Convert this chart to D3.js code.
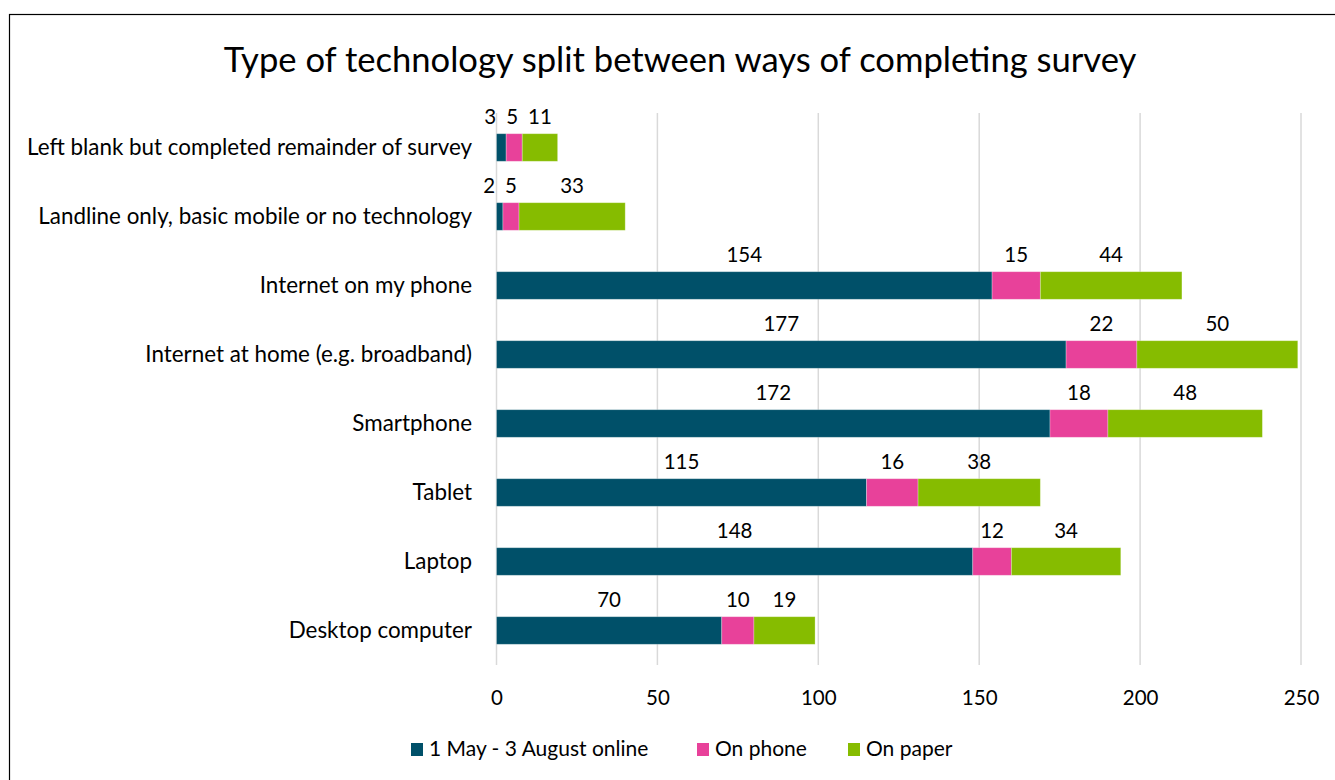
<!DOCTYPE html>
<html><head><meta charset="utf-8">
<script src="https://cdn.jsdelivr.net/npm/d3@7"></script>
<style>body{margin:0;background:#fff}svg{display:block}text{font-family:Lato,"Open Sans",sans-serif;fill:#000}</style>
</head><body><svg id="c" width="1335" height="780"></svg>
<script>
const categories = ["Left blank but completed remainder of survey","Landline only, basic mobile or no technology","Internet on my phone","Internet at home (e.g. broadband)","Smartphone","Tablet","Laptop","Desktop computer"];
const seriesNames = ["1 May - 3 August online","On phone","On paper"];
const online = [3,2,154,177,172,115,148,70];
const phone = [5,5,15,22,18,16,12,10];
const paper = [11,33,44,50,48,38,34,19];
const tickValues = [0,50,100,150,200,250];
const colors = ["#005069","#E8419A","#86BC00"];

const svg = d3.select("#c");
svg.append("rect").attr("x",9.5).attr("y",14.5).attr("width",1340).attr("height",800).attr("fill","#fff").attr("stroke","#000").attr("stroke-width",1.2);
svg.append("text").attr("x",680).attr("y",72).attr("text-anchor","middle").style("font-size","34.6px").text("Type of technology split between ways of completing survey");

const x = d3.scaleLinear().domain([0,250]).range([496.5,1301]);
const y = d3.scaleBand().domain(categories).range([113,665]).paddingInner(0.6).paddingOuter(0.3);

// gridlines
svg.append("g").selectAll("line").data(tickValues).join("line")
  .attr("x1",d=>x(d)).attr("x2",d=>x(d)).attr("y1",113).attr("y2",665)
  .attr("stroke","#d9d9d9").attr("stroke-width",1.5);

// axis labels
const ax = svg.append("g").attr("transform","translate(0,665)")
  .call(d3.axisBottom(x).tickValues(tickValues).tickSize(0).tickPadding(25));
ax.select(".domain").remove();
ax.selectAll("text").style("font-size","20.5px").style("font-family","Lato,'Open Sans',sans-serif").attr("fill","#000");

const rows = categories.map((c,i)=>({cat:c,v:[online[i],phone[i],paper[i]]}));
const stack = d3.stack().keys([0,1,2]).value((d,k)=>d.v[k]);
const layers = stack(rows);

const g = svg.append("g");
const labelSel = [];
layers.forEach((layer,k)=>{
  g.append("g").selectAll("rect").data(layer).join("rect")
    .attr("x",d=>x(d[0])).attr("width",d=>x(d[1])-x(d[0]))
    .attr("y",d=>y(d.data.cat)).attr("height",y.bandwidth())
    .attr("fill",colors[k]).attr("stroke","rgba(255,255,255,0.35)").attr("stroke-width",0.8);
});
layers.forEach((layer,k)=>{
  labelSel.push(g.append("g").selectAll("text").data(layer).join("text")
    .attr("x",d=>(x(d[0])+x(d[1]))/2).attr("y",d=>y(d.data.cat)-10)
    .attr("text-anchor","middle").style("font-size","20.5px").text(d=>d.data.v[k]));
});
// simple collision avoidance within each row: push earlier labels left
const minGap = 10;
categories.forEach((c,i)=>{
  const nodes = labelSel.map(s=>s.nodes()[i]);
  const cx = nodes.map(n=>+n.getAttribute("x"));
  const w = nodes.map(n=>n.getComputedTextLength());
  for(let k=nodes.length-2;k>=0;k--){
    const rightK = cx[k]+w[k]/2, leftN = cx[k+1]-w[k+1]/2;
    if(leftN-rightK<minGap){ cx[k] = leftN-minGap-w[k]/2; nodes[k].setAttribute("x",cx[k]); }
  }
});

// category labels
svg.append("g").selectAll("text").data(categories).join("text")
  .attr("x",472).attr("y",d=>y(d)+y.bandwidth()/2).attr("dy","0.35em")
  .attr("text-anchor","end").style("font-size","22.4px").text(d=>d);

// legend
const legX = [411,697,848];
const leg = svg.append("g");
seriesNames.forEach((n,i)=>{
  leg.append("rect").attr("x",legX[i]).attr("y",743).attr("width",12).attr("height",13).attr("fill",colors[i]);
  leg.append("text").attr("x",legX[i]+18).attr("y",749).attr("dy","0.35em").style("font-size","21px").text(n);
});
</script></body></html>
